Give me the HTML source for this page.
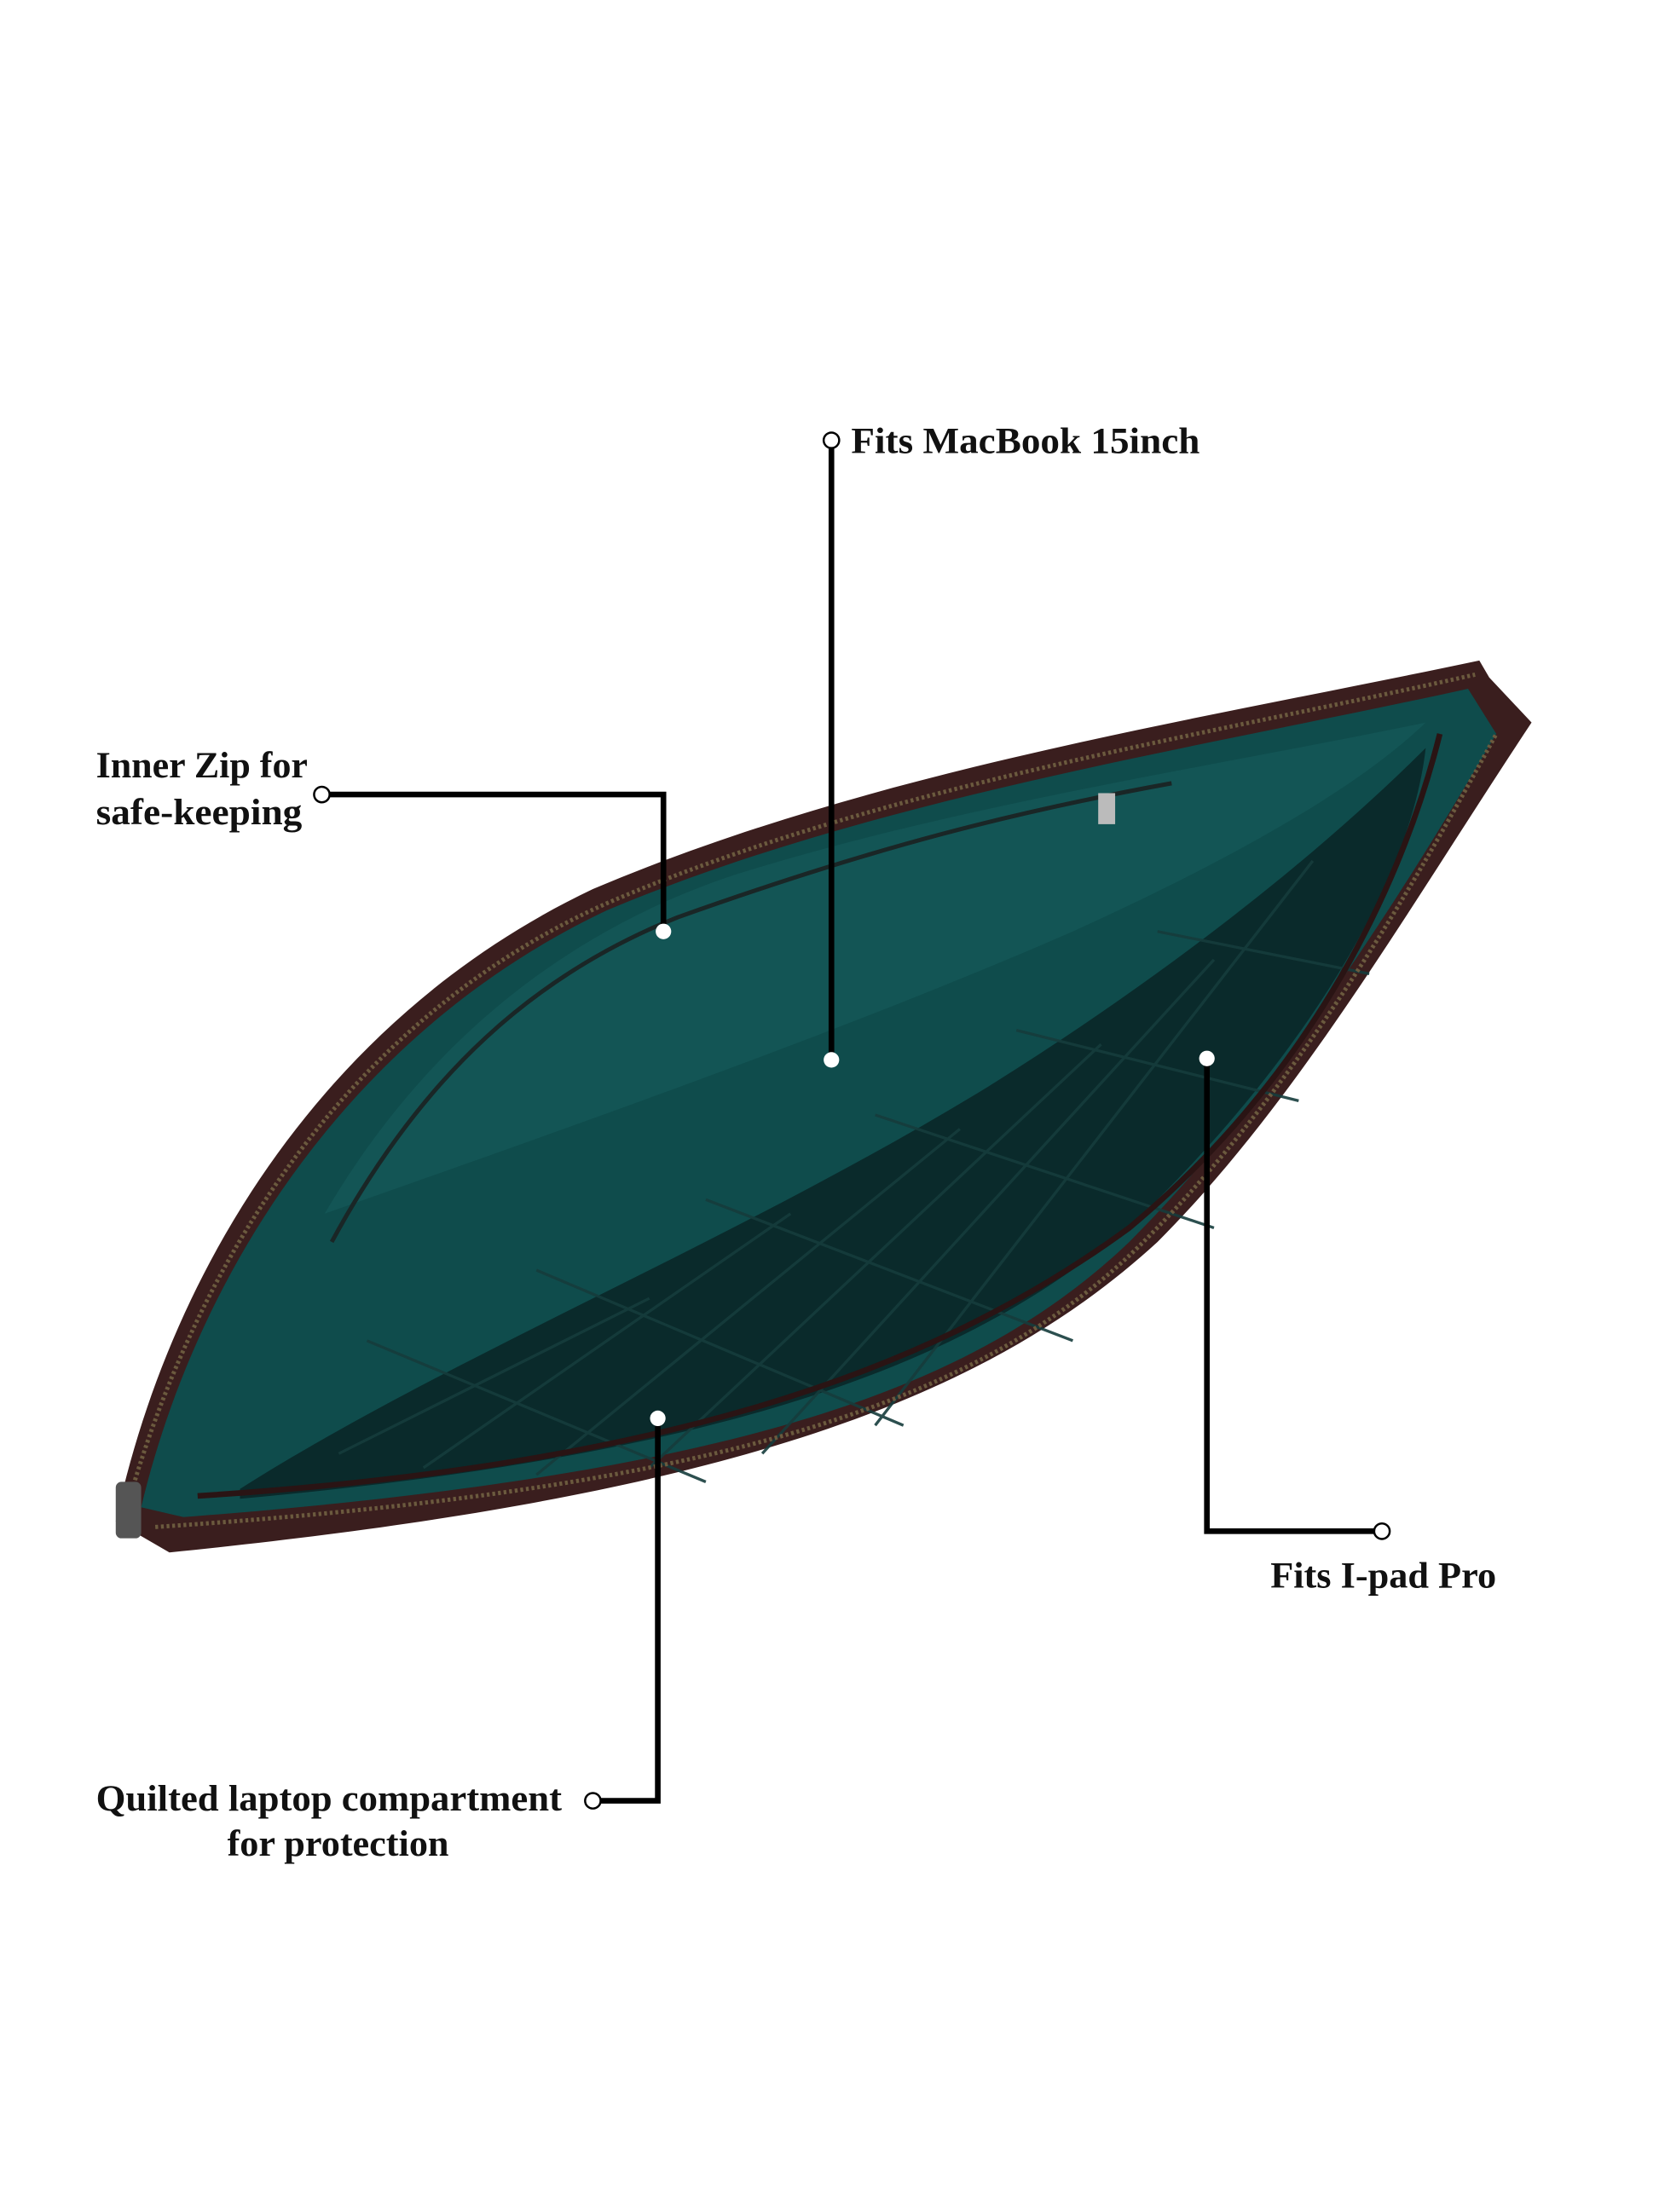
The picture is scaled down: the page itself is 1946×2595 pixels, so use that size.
<!DOCTYPE html>
<html><head><meta charset="utf-8"><style>
html,body{margin:0;padding:0;background:#fff;}
svg{display:block;}
text{font-family:"Liberation Serif",serif;font-weight:bold;font-size:26px;fill:#111;}
</style></head><body>
<svg width="1946" height="2595" viewBox="0 0 1160 1547" preserveAspectRatio="none" xmlns="http://www.w3.org/2000/svg">
<rect width="1160" height="1547" fill="#fff"/>
<g transform="scale(0.987)">
<!-- bag outer -->
<path d="M82,1078 C120,900 230,720 420,630 C620,545 850,510 1048,468 L1055,480 L1085,512 C1000,640 920,780 820,880 C700,990 520,1060 120,1100 Z" fill="#3a1e1e"/>
<!-- teal interior -->
<path d="M100,1068 C140,900 250,730 430,645 C620,565 850,530 1040,488 L1060,520 C990,640 900,780 800,880 C690,985 520,1045 130,1075 Z" fill="#0f4c4c"/>
<!-- lighter upper lining -->
<path d="M230,860 C300,740 400,660 520,620 C680,570 850,545 1010,512 C960,560 870,610 760,660 C600,730 400,800 230,860 Z" fill="#155a5a" opacity="0.7"/>
<!-- quilted darker pocket -->
<path d="M170,1055 C320,960 520,880 700,770 C820,695 930,610 1010,530 C1000,620 930,740 820,850 C700,965 520,1030 170,1062 Z" fill="#0a2a2b"/>
<g stroke="#163c3c" stroke-width="2" fill="none" opacity="0.9">
<path d="M300,1040 L560,860 M380,1045 L680,800 M460,1040 L780,740 M540,1030 L860,680 M620,1010 L930,610 M240,1030 L460,920"/>
<path d="M260,950 L500,1050 M380,900 L640,1010 M500,850 L760,950 M620,790 L860,870 M720,730 L920,780 M820,660 L970,690"/>
</g>
<!-- brown piping -->
<path d="M140,1060 C450,1040 650,980 800,870 C920,770 990,640 1020,520" stroke="#2a1414" stroke-width="4" fill="none"/>
<!-- inner zip -->
<path d="M235,880 C300,760 380,690 480,650 C620,600 720,575 830,555" stroke="#1a2626" stroke-width="3" fill="none"/>
<rect x="778" y="562" width="12" height="22" fill="#bbb"/>
<!-- zipper teeth edges -->
<path d="M90,1068 C140,890 250,720 430,640 C620,558 850,522 1045,478" stroke="#6b5a3e" stroke-width="3" fill="none" stroke-dasharray="2 2"/>
<path d="M110,1082 C520,1055 700,990 810,880 C910,780 990,650 1060,520" stroke="#6b5a3e" stroke-width="3" fill="none" stroke-dasharray="2 2"/>
<rect x="82" y="1050" width="18" height="40" rx="4" fill="#555"/>
<!-- connectors -->
<g stroke="#000" stroke-width="4" fill="none">
<polyline points="589,317 589,750"/>
<polyline points="233,563 470,563 470,660"/>
<polyline points="855,750 855,1085 974,1085"/>
<polyline points="425,1276 466,1276 466,1005"/>
</g>
<g fill="#fff" stroke="#000" stroke-width="1.5">
<circle cx="589" cy="312" r="5.5"/>
<circle cx="228" cy="563" r="5.5"/>
<circle cx="979" cy="1085" r="5.5"/>
<circle cx="420" cy="1276" r="5.5"/>
</g>
<g fill="#fff">
<circle cx="589" cy="751" r="5.5"/>
<circle cx="470" cy="660" r="5.5"/>
<circle cx="855" cy="750" r="5.5"/>
<circle cx="466" cy="1005" r="5.5"/>
</g>
<!-- labels -->
<text x="603" y="321" textLength="247" lengthAdjust="spacingAndGlyphs">Fits MacBook 15inch</text>
<text x="68" y="551" textLength="150" lengthAdjust="spacingAndGlyphs">Inner Zip for</text>
<text x="68" y="584" textLength="146" lengthAdjust="spacingAndGlyphs">safe-keeping</text>
<text x="900" y="1125" textLength="160" lengthAdjust="spacingAndGlyphs">Fits I-pad Pro</text>
<text x="68" y="1283" textLength="330" lengthAdjust="spacingAndGlyphs">Quilted laptop compartment</text>
<text x="161" y="1315" textLength="157" lengthAdjust="spacingAndGlyphs">for protection</text>
</g>
</svg>
</body></html>
